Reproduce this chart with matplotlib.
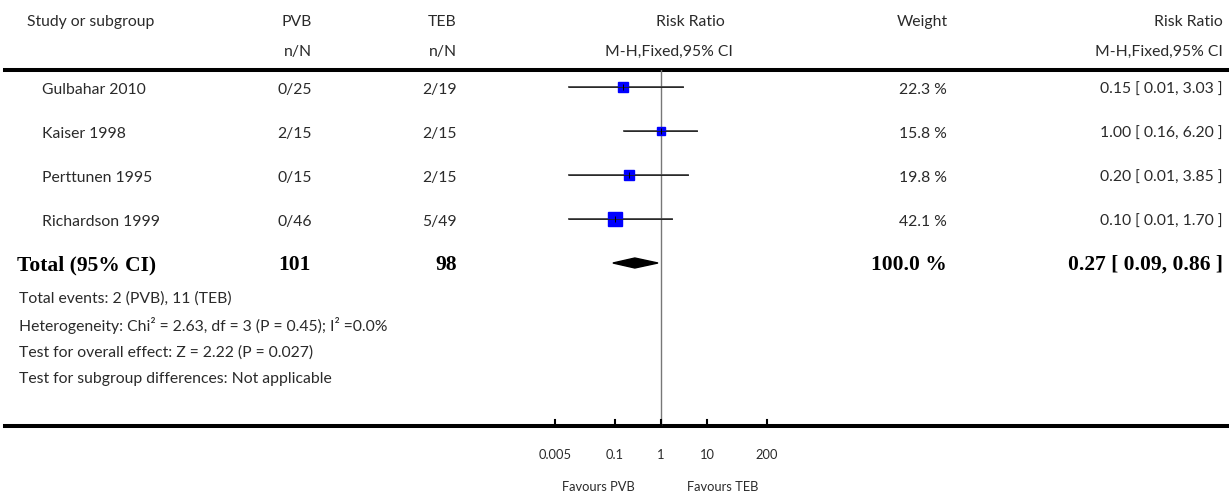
import numpy as np
import matplotlib
matplotlib.use("Agg")
import matplotlib.pyplot as plt
from matplotlib.lines import Line2D

# data
studies = ["Gulbahar 2010", "Kaiser 1998", "Perttunen 1995", "Richardson 1999"]
pvb = ["0/25", "2/15", "0/15", "0/46"]
teb = ["2/19", "2/15", "2/15", "5/49"]
rr = [0.15, 1.00, 0.20, 0.10]
lo = [0.01, 0.16, 0.01, 0.01]
hi = [3.03, 6.20, 3.85, 1.70]
weight = [22.3, 15.8, 19.8, 42.1]
total_n = ["101", "98"]
total_rr, total_lo, total_hi = 0.27, 0.09, 0.86
ticks = [0.005, 0.1, 1, 10, 200]
tick_labels = ["0.005", "0.1", "1", "10", "200"]
footer = ["Total events: 2 (PVB), 11 (TEB)",
          "Heterogeneity: Chi² = 2.63, df = 3 (P = 0.45); I² =0.0%",
          "Test for overall effect: Z = 2.22 (P = 0.027)",
          "Test for subgroup differences: Not applicable"]

W, H = 1229, 492
fig = plt.figure(figsize=(W / 100, H / 100), dpi=100)

# table axes in pixel coords
tab = fig.add_axes([0, 0, 1, 1])
tab.set_xlim(0, W)
tab.set_ylim(H, 0)
tab.axis("off")

sans = "Lato"
serif = "Liberation Serif"
fs = 11.3
bfs = 15.5
gray = "#2a2a2a"

row0, step = 87, 44
top_line, bot_line = 70, 426

def ry(i):
    return row0 + step * i

# header
tab.text(27, 22, "Study or subgroup", fontsize=fs, family=sans, va="center", color=gray)
tab.text(312, 22, "PVB", fontsize=fs, family=sans, va="center", ha="right", color=gray)
tab.text(312, 52, "n/N", fontsize=fs, family=sans, va="center", ha="right", color=gray)
tab.text(457, 22, "TEB", fontsize=fs, family=sans, va="center", ha="right", color=gray)
tab.text(457, 52, "n/N", fontsize=fs, family=sans, va="center", ha="right", color=gray)
tab.text(690, 22, "Risk Ratio", fontsize=fs, family=sans, va="center", ha="center", color=gray)
tab.text(669, 52, "M-H,Fixed,95% CI", fontsize=fs, family=sans, va="center", ha="center", color=gray)
tab.text(948, 22, "Weight", fontsize=fs, family=sans, va="center", ha="right", color=gray)
tab.text(1223, 22, "Risk Ratio", fontsize=fs, family=sans, va="center", ha="right", color=gray)
tab.text(1223, 52, "M-H,Fixed,95% CI", fontsize=fs, family=sans, va="center", ha="right", color=gray)

tab.add_line(Line2D([5, W], [top_line, top_line], color="black", lw=2.9))
tab.add_line(Line2D([5, W], [bot_line, bot_line], color="black", lw=2.9))

for i, s in enumerate(studies):
    y = ry(i) + 3
    tab.text(42, y, s, fontsize=fs, family=sans, va="center", color=gray)
    tab.text(312, y, pvb[i], fontsize=fs, family=sans, va="center", ha="right", color=gray)
    tab.text(457, y, teb[i], fontsize=fs, family=sans, va="center", ha="right", color=gray)
    tab.text(947, y, f"{weight[i]:.1f} %", fontsize=fs, family=sans, va="center", ha="right", color=gray)
    tab.text(1223, y, f"{rr[i]:.2f} [ {lo[i]:.2f}, {hi[i]:.2f} ]", fontsize=fs,
             family=sans, va="center", ha="right", color=gray)

yt = ry(4) + 2
tab.text(17, yt, "Total (95% CI)", fontsize=bfs, family=serif, weight="bold", va="center")
tab.text(311, yt, total_n[0], fontsize=bfs, family=serif, weight="bold", va="center", ha="right")
tab.text(457, yt, total_n[1], fontsize=bfs, family=serif, weight="bold", va="center", ha="right")
tab.text(947, yt, f"{sum(weight):.1f} %", fontsize=bfs, family=serif, weight="bold", va="center", ha="right")
tab.text(1223, yt, f"{total_rr:.2f} [ {total_lo:.2f}, {total_hi:.2f} ]", fontsize=bfs,
         family=serif, weight="bold", va="center", ha="right")

for k, line in enumerate(footer):
    tab.text(19, 299 + 26.7 * k, line, fontsize=fs, family=sans, va="center", color=gray)

tab.text(598, 487, "Favours PVB", fontsize=9.3, family=sans, va="center", ha="center", color=gray)
tab.text(723, 487, "Favours TEB", fontsize=9.3, family=sans, va="center", ha="center", color=gray)

# forest axes: 0.001..1000 over pixels 523..799
x0, x1 = 523, 799
ax = fig.add_axes([x0 / W, 1 - bot_line / H, (x1 - x0) / W, (bot_line - top_line) / H])
ax.set_xscale("log")
ax.set_xlim(0.001, 1000)
ax.set_ylim(bot_line, top_line)
ax.axis("off")
ax.patch.set_alpha(0)

ax.axvline(1, color="#777777", lw=1)

w = np.array(weight)
sizes = 9.5 * np.sqrt(w / w.max())
for i in range(len(studies)):
    y = ry(i)
    ax.plot([lo[i], hi[i]], [y, y], color="#444444", lw=1.3, zorder=2)
    ax.plot(rr[i], y, marker="s", ms=sizes[i], color="#0000ff", mec="#0000ff", zorder=3, ls="none")
    ax.plot([lo[i], hi[i]], [y, y], color="#222222", lw=0.6, zorder=4)
    ax.plot(rr[i], y, marker="|", ms=4, color="black", mew=0.7, zorder=5, ls="none")

yd = ry(4)
ax.fill([total_lo, total_rr, total_hi, total_rr], [yd, yd - 5, yd, yd + 5],
        color="black", zorder=3)

for t, lab in zip(ticks, tick_labels):
    ax.plot([t, t], [bot_line, bot_line - 6], color="black", lw=1.5, clip_on=False)
    ax.text(t, 455, lab, fontsize=9.3, family=sans, ha="center", va="center", color=gray)

fig.savefig("out.png", dpi=100)
